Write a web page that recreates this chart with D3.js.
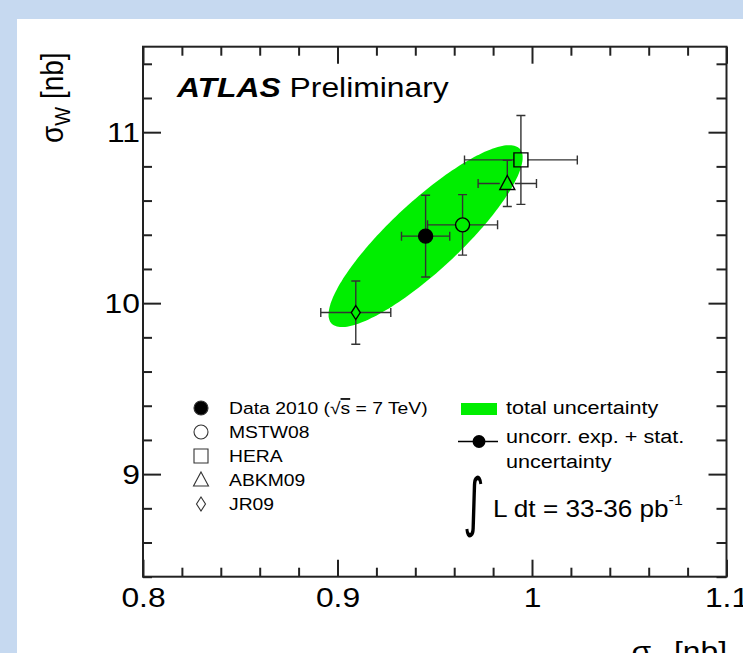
<!DOCTYPE html>
<html lang="en">
<head>
<meta charset="utf-8">
<title>sigma_W vs sigma_Z</title>
<script src="https://cdn.jsdelivr.net/npm/d3@7"></script>
<style>
  html, body { margin: 0; padding: 0; background: #c6d9f0; }
  svg { display: block; }
  text { font-family: "Liberation Sans", Arial, Helvetica, sans-serif; fill: #000; }
</style>
</head>
<body>
<script>
// measured values (sigma_Z [nb], sigma_W [nb]) with uncertainties
var models = ["Data 2010", "MSTW08", "HERA", "ABKM09", "JR09"];
var sigmaZ = [0.9453, 0.9643, 0.9943, 0.9873, 0.9094];
var sigmaW = [10.392, 10.458, 10.838, 10.700, 9.945];
var errZ   = [0.0124, 0.018, 0.029, 0.015, 0.018];
var errW   = [0.239, 0.177, 0.26, 0.135, 0.185];

// total uncertainty ellipse around the data point
var ellSigmaZ = 0.0499;
var ellSigmaW = 0.532;
var ellRho    = 0.863;

var xTicks = [0.8, 0.9, 1, 1.1];
var xTickLabels = ["0.8", "0.9", "1", "1.1"];
var yTicks = [9, 10, 11];
var yTickLabels = ["9", "10", "11"];

var w = 743, h = 653;
var SX = 1.137;   // the picture is a bit wider than tall, text too

var svg = d3.select("body").append("svg").attr("width", w).attr("height", h);

svg.append("rect").attr("x", 17).attr("y", 19).attr("width", w).attr("height", h).attr("fill", "#fff");

var x = d3.scaleLinear().domain([0.8, 1.1]).range([143, 726.5]);
var y = d3.scaleLinear().domain([8.4, 11.5]).range([576.7, 46.7]);

function label(g, px, py, size) {
  return g.append("text")
    .attr("transform", "translate(" + px + "," + py + ") scale(" + SX + ",1)")
    .style("font-size", size + "px");
}

// ellipse (total uncertainty)
var t = d3.range(0, 2 * Math.PI, Math.PI / 90);
var ellipse = d3.line()
  .x(function(a) { return x(sigmaZ[0] + ellSigmaZ * Math.cos(a)); })
  .y(function(a) { return y(sigmaW[0] + ellSigmaW * (ellRho * Math.cos(a) + Math.sqrt(1 - ellRho * ellRho) * Math.sin(a))); })
  .curve(d3.curveLinearClosed);
svg.append("path").attr("d", ellipse(t)).attr("fill", "#00ee00");

// axes: ticks on all four sides, pointing inwards
var minorX = d3.range(0.8, 1.1001, 0.02).filter(function(v) { return Math.abs(v * 10 - Math.round(v * 10)) > 1e-6; });
var minorY = d3.range(8.4, 11.5001, 0.2).filter(function(v) { return Math.abs(v - Math.round(v)) > 1e-6; });

function tickStyle(g) {
  g.select(".domain").remove();
  g.selectAll("line").attr("stroke", "#222").attr("stroke-width", 2);
}

var gx = svg.append("g").attr("transform", "translate(0," + y.range()[0] + ")")
  .call(d3.axisBottom(x).tickValues(xTicks).tickSize(-17).tickPadding(10)
    .tickFormat(function(d, i) { return xTickLabels[i]; }))
  .call(tickStyle);
gx.selectAll("text").attr("transform", "scale(" + SX + ",1)").style("font-size", "28px").attr("fill", "#000");
svg.append("g").attr("transform", "translate(0," + y.range()[0] + ")")
  .call(d3.axisBottom(x).tickValues(minorX).tickSize(-9).tickFormat("")).call(tickStyle);
svg.append("g").attr("transform", "translate(0," + y.range()[1] + ")")
  .call(d3.axisTop(x).tickValues(xTicks).tickSize(-17).tickFormat("")).call(tickStyle);
svg.append("g").attr("transform", "translate(0," + y.range()[1] + ")")
  .call(d3.axisTop(x).tickValues(minorX).tickSize(-9).tickFormat("")).call(tickStyle);

var gy = svg.append("g").attr("transform", "translate(" + x.range()[0] + ",0)")
  .call(d3.axisLeft(y).tickValues(yTicks).tickSize(-18).tickPadding(3)
    .tickFormat(function(d, i) { return yTickLabels[i]; }))
  .call(tickStyle);
gy.selectAll("text").attr("x", -3 / SX).attr("transform", "scale(" + SX + ",1)")
  .style("font-size", "28px").attr("fill", "#000");
svg.append("g").attr("transform", "translate(" + x.range()[0] + ",0)")
  .call(d3.axisLeft(y).tickValues(minorY).tickSize(-9).tickFormat("")).call(tickStyle);
svg.append("g").attr("transform", "translate(" + x.range()[1] + ",0)")
  .call(d3.axisRight(y).tickValues(yTicks).tickSize(-18).tickFormat("")).call(tickStyle);
svg.append("g").attr("transform", "translate(" + x.range()[1] + ",0)")
  .call(d3.axisRight(y).tickValues(minorY).tickSize(-10).tickFormat("")).call(tickStyle);

svg.append("rect")
  .attr("x", x.range()[0]).attr("y", y.range()[1])
  .attr("width", x.range()[1] - x.range()[0]).attr("height", y.range()[0] - y.range()[1])
  .attr("fill", "none").attr("stroke", "#222").attr("stroke-width", 2);

// marker shapes (half sizes in px)
function markerPath(i, cx, cy) {
  var p = d3.path();
  if (i === 0 || i === 1) { p.moveTo(cx + 7, cy); p.arc(cx, cy, 7, 0, 2 * Math.PI); }
  else if (i === 2) { p.rect(cx - 7, cy - 7, 14, 14); }
  else if (i === 3) { p.moveTo(cx, cy - 8); p.lineTo(cx + 7.5, cy + 6); p.lineTo(cx - 7.5, cy + 6); p.closePath(); }
  else { p.moveTo(cx, cy - 7); p.lineTo(cx + 4.5, cy); p.lineTo(cx, cy + 7); p.lineTo(cx - 4.5, cy); p.closePath(); }
  return p.toString();
}
var gapX = [7, 7, 7, 7.5, 4.5];
var gapY = [7, 7, 7, 7, 7];

// error bars
var bars = svg.append("g").attr("stroke", "#333").attr("stroke-width", 1.4).attr("fill", "none");
models.forEach(function(m, i) {
  var cx = x(sigmaZ[i]), cy = y(sigmaW[i]);
  var x0 = x(sigmaZ[i] - errZ[i]), x1 = x(sigmaZ[i] + errZ[i]);
  var y0 = y(sigmaW[i] - errW[i]), y1 = y(sigmaW[i] + errW[i]);
  var p = d3.path();
  p.moveTo(x0, cy); p.lineTo(cx - gapX[i], cy);
  p.moveTo(cx + gapX[i], cy); p.lineTo(x1, cy);
  p.moveTo(cx, y1); p.lineTo(cx, cy - gapY[i]);
  p.moveTo(cx, cy + gapY[i]); p.lineTo(cx, y0);
  p.moveTo(x0, cy - 4.5); p.lineTo(x0, cy + 4.5);
  p.moveTo(x1, cy - 4.5); p.lineTo(x1, cy + 4.5);
  p.moveTo(cx - 4.5, y0); p.lineTo(cx + 4.5, y0);
  p.moveTo(cx - 4.5, y1); p.lineTo(cx + 4.5, y1);
  bars.append("path").attr("d", p.toString());
});

// markers
models.forEach(function(m, i) {
  svg.append("path").attr("d", markerPath(i, x(sigmaZ[i]), y(sigmaW[i])))
    .attr("fill", i === 0 ? "#000" : "none")
    .attr("stroke", "#000").attr("stroke-width", 1.4);
});

// ATLAS label
var atlas = label(svg, 177, 97, 28);
atlas.append("tspan").text("ATLAS").style("font-weight", "bold").style("font-style", "italic");
atlas.append("tspan").text(" Preliminary");

// left legend
models.forEach(function(m, i) {
  var ly = 408 + i * 24;
  svg.append("path").attr("d", markerPath(i, 201, ly))
    .attr("fill", i === 0 ? "#000" : "none").attr("stroke", "#333").attr("stroke-width", 1.1);
  var tx = label(svg, 229, ly + 6, 17);
  if (i === 0) {
    tx.append("tspan").text("Data 2010 (\u221A");
    tx.append("tspan").text("s").style("text-decoration", "overline");
    tx.append("tspan").text(" = 7 TeV)");
  } else {
    tx.text(m);
  }
});

// right legend
svg.append("rect").attr("x", 461).attr("y", 403).attr("width", 36).attr("height", 12).attr("fill", "#00ee00");
label(svg, 506, 414, 19).text("total uncertainty");
svg.append("line").attr("x1", 458).attr("x2", 498).attr("y1", 441.5).attr("y2", 441.5)
  .attr("stroke", "#000").attr("stroke-width", 1.4);
svg.append("circle").attr("cx", 479).attr("cy", 441.5).attr("r", 6.5).attr("fill", "#000");
label(svg, 506, 443, 19).text("uncorr. exp. + stat.");
label(svg, 506, 468, 19).text("uncertainty");

// luminosity
svg.append("text").attr("transform", "translate(463,524) scale(0.65,1)").style("font-family", "DejaVu Sans")
  .style("font-size", "64px").text("\u222B");
var lumi = label(svg, 493, 517, 23);
lumi.append("tspan").text("L dt = 33-36 pb");
lumi.append("tspan").text("-1").attr("dy", -12).style("font-size", "14px");

// axis titles
var yt = svg.append("text").attr("transform", "translate(63,143) rotate(-90) scale(1," + SX + ")")
  .style("font-size", "28px");
yt.append("tspan").text("\u03C3");
yt.append("tspan").text("W").attr("dy", 6).style("font-size", "20px");
yt.append("tspan").text(" [nb]").attr("dy", -6);

var xt = label(svg, 727, 661, 28).attr("text-anchor", "end");
xt.append("tspan").text("\u03C3");
xt.append("tspan").text("Z").attr("dy", 6).style("font-size", "20px");
xt.append("tspan").text(" [nb]").attr("dy", -6);
</script>
</body>
</html>
